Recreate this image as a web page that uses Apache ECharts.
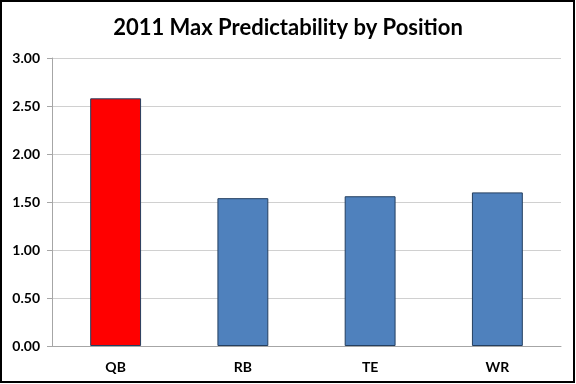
<!DOCTYPE html>
<html><head><meta charset="utf-8">
<script src="https://cdn.jsdelivr.net/npm/echarts@6/dist/echarts.min.js"></script>
<style>html,body{margin:0;padding:0;background:#fff}#c{width:576px;height:384px}</style>
</head><body><div id="c"></div>
<script>
const categories = ['QB', 'RB', 'TE', 'WR'];
const values = [2.58, 1.54, 1.56, 1.60];
const barColors = ['#FF0000', '#4F81BD', '#4F81BD', '#4F81BD'];
const titleText = '2011 Max Predictability by Position';

const chart = echarts.init(document.getElementById('c'), null, {renderer: 'canvas'});
chart.setOption({
  animation: false,
  backgroundColor: '#fff',
  title: {
    text: titleText, left: 'center', top: 12,
    textStyle: {fontFamily: 'Lato', fontWeight: 'bold', fontSize: 22, color: '#000'}
  },
  grid: {left: 52, right: 15, top: 58, bottom: 38, containLabel: false},
  xAxis: {
    type: 'category', data: categories,
    axisLine: {lineStyle: {color: '#A6A6A6', width: 1}},
    axisTick: {show: false},
    axisLabel: {fontFamily: 'Lato', fontWeight: 'bold', fontSize: 14, color: '#000', margin: 14}
  },
  yAxis: {
    type: 'value', min: 0, max: 3, interval: 0.5,
    axisLine: {show: true, lineStyle: {color: '#A6A6A6'}},
    axisTick: {show: true, length: 5, inside: false, lineStyle: {color: '#A6A6A6'}},
    splitLine: {lineStyle: {color: '#D0D0D0', width: 1}},
    axisLabel: {fontFamily: 'Lato', fontWeight: 'bold', fontSize: 14, color: '#000', margin: 12,
      formatter: v => v.toFixed(2)}
  },
  series: [{
    type: 'bar', barWidth: '40%',
    data: values.map((v, i) => ({value: v, itemStyle: {color: barColors[i]}})),
    itemStyle: {borderColor: '#243F60', borderWidth: 1}
  }],
  graphic: [{
    type: 'rect', shape: {x: 1, y: 1, width: 573, height: 381},
    style: {fill: 'none', stroke: '#000', lineWidth: 2}, silent: true
  }]
});
</script></body></html>
